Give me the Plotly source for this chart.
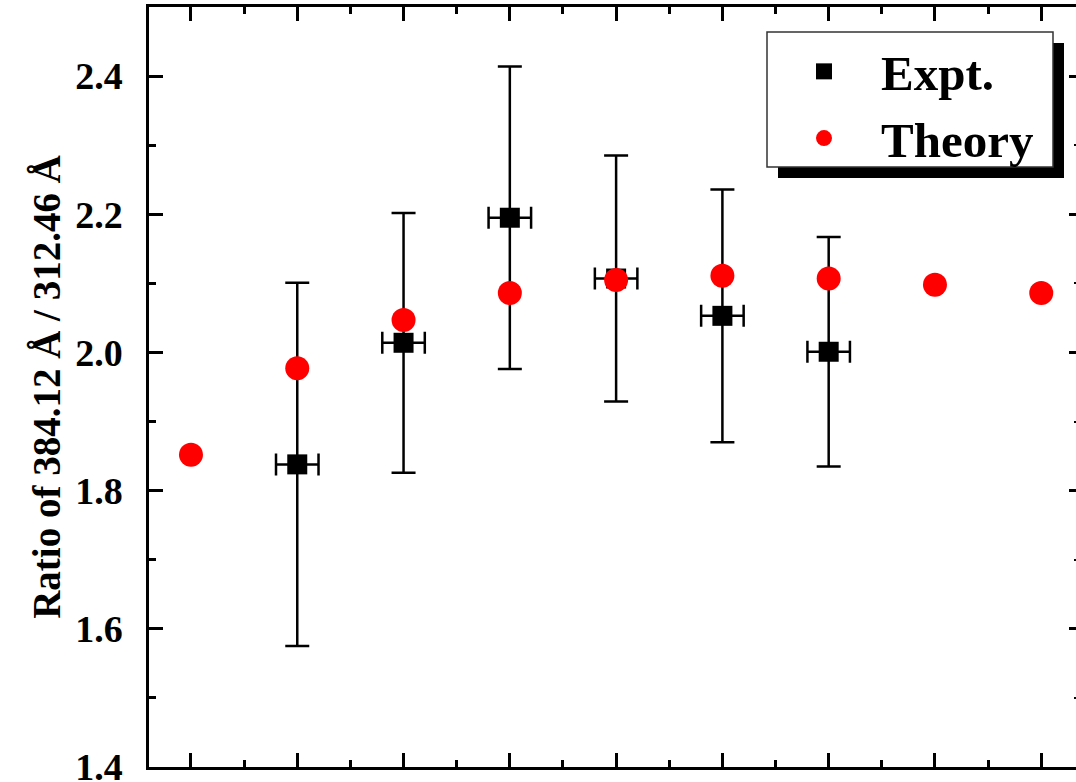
import plotly.graph_objects as go

# Line index (1..9) and measured / calculated intensity ratios
theory_x = [1, 2, 3, 4, 5, 6, 7, 8, 9]
theory_ratio = [1.852, 1.977, 2.047, 2.086, 2.105, 2.111, 2.107, 2.098, 2.086]

expt_x = [2, 3, 4, 5, 6, 7]
expt_ratio = [1.838, 2.014, 2.195, 2.107, 2.053, 2.001]
expt_err_y = [0.263, 0.188, 0.219, 0.178, 0.183, 0.166]
expt_err_x = [0.2, 0.2, 0.2, 0.2, 0.2, 0.2]

FONT = "Liberation Serif"
W, H = 1076, 782
ML, MR, MT, MB = 149, 0, 7, 15

fig = go.Figure()

fig.add_trace(go.Scatter(
    x=expt_x, y=expt_ratio, mode="markers", name="Expt.",
    marker=dict(symbol="square", size=20, color="black"),
    error_y=dict(type="data", array=expt_err_y, visible=True,
                 color="black", thickness=2.5, width=12),
    error_x=dict(type="data", array=expt_err_x, visible=True,
                 color="black", thickness=2.5, width=11),
))

fig.add_trace(go.Scatter(
    x=theory_x, y=theory_ratio, mode="markers", name="Theory",
    marker=dict(symbol="circle", size=24, color="#ff0000"),
))

# carrier trace so the right-hand tick axis is drawn
fig.add_trace(go.Scatter(x=[], y=[], yaxis="y2", showlegend=False,
                         hoverinfo="skip"))

yr = [1.4, 2.5]
xr = [0.605, 9.327]

# legend frame with a drop shadow (pixel positions converted to paper units)
pw, ph = W - ML - MR, H - MT - MB
def px(x):
    return (x - ML) / pw
def py(y):
    return (H - MB - y) / ph

fig.add_shape(type="rect", xref="paper", yref="paper",
              x0=px(778), x1=px(1064), y0=py(178), y1=py(43),
              fillcolor="black", line=dict(width=0), layer="above")
fig.add_shape(type="rect", xref="paper", yref="paper",
              x0=px(767), x1=px(1053), y0=py(167), y1=py(32),
              fillcolor="white", line=dict(color="#333333", width=1.5),
              layer="above")

fig.update_layout(
    width=W, height=H,
    margin=dict(l=ML, r=MR, t=MT, b=MB, pad=0),
    paper_bgcolor="white", plot_bgcolor="white",
    font=dict(family=FONT, color="black"),
    showlegend=True,
    legend=dict(
        x=px(767), y=py(33), xanchor="left", yanchor="top",
        bgcolor="rgba(0,0,0,0)", borderwidth=0,
        font=dict(family=FONT, size=49, color="black", weight="bold"),
        itemwidth=104, tracegroupgap=0,
    ),
    xaxis=dict(
        range=xr, dtick=1, tick0=1, automargin=False,
        showline=True, linewidth=2.5, linecolor="black", mirror="ticks",
        ticks="inside", ticklen=14, tickwidth=2.5, tickcolor="black",
        minor=dict(dtick=0.5, ticks="inside", ticklen=7, tickwidth=2.5,
                   tickcolor="black"),
        showticklabels=False, showgrid=False, zeroline=False,
    ),
    yaxis=dict(
        range=yr, dtick=0.2, tick0=1.4, automargin=False,
        showline=True, linewidth=2.5, linecolor="black", mirror=False,
        ticks="inside", ticklen=14, tickwidth=2.5, tickcolor="black",
        minor=dict(dtick=0.1, ticks="inside", ticklen=7, tickwidth=2.5,
                   tickcolor="black"),
        tickformat=".1f", ticklabelstandoff=16, ticklabeloverflow="allow",
        tickfont=dict(family=FONT, size=38, color="black", weight="bold"),
        title=dict(text="Ratio of 384.12 Å / 312.46 Å", standoff=3,
                   font=dict(family=FONT, size=39, color="black",
                             weight="bold")),
        showgrid=False, zeroline=False,
    ),
    yaxis2=dict(
        range=yr, dtick=0.2, tick0=1.4, overlaying="y", side="right",
        automargin=False,
        showline=False, ticks="inside", ticklen=7, tickwidth=2.5,
        tickcolor="black",
        minor=dict(dtick=0.1, ticks="inside", ticklen=2, tickwidth=1.5,
                   tickcolor="black"),
        showticklabels=False, showgrid=False, zeroline=False,
    ),
)

fig.write_html("out.html")
